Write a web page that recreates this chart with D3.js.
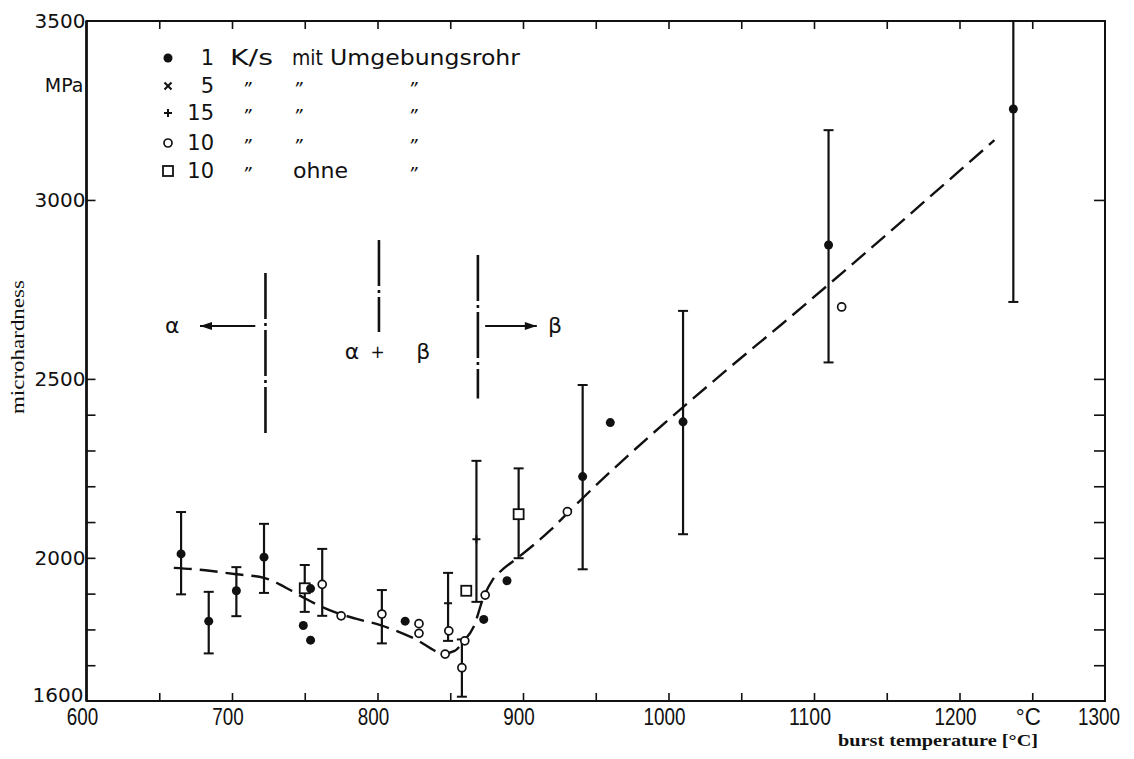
<!DOCTYPE html>
<html><head><meta charset="utf-8">
<script src="https://cdn.jsdelivr.net/npm/d3@7"></script>
<style>body{margin:0;background:#fff} svg{display:block}</style>
</head><body>
<svg id="c" width="1134" height="759"></svg>
<script>
// ---- axis ticks / labels ----
const xTicksMajor = [600,700,800,900,1000,1100,1200,1300];
const xTickLabels = ["600","700","800","900","1000","1100","1200","1300"];
const xTicksMinor = [650,750,850,950,1050,1150,1250];
const xUnitAt = 1250, xUnitLabel = "°C";
const yTicksLabeled = [1600,2000,2500,3000,3500];
const yTickLabels = ["1600","2000","2500","3000","3500"];
const yTicksInner = [1700,1800,1900,2000,2100,2200,2300,2400,2500,3000];
const yUnitAt = 3320, yUnitLabel = "MPa";

// ---- data series: [burst temperature °C, microhardness MPa, lower, upper] ----
const s1K = [
  [665,2011,1898,2128],[684,1823,1733,1905],[703,1908,1837,1974],[722,2002,1902,2095],
  [749,1811],[754,1770],[754,1914],[819,1823],[873,1828],[889,1936],
  [941,2227,1968,2483],[960,2378],[1010,2380,2066,2690],[1110,2874,2546,3195],[1237,3254,2715,3500]
];
const s5K = [];
const s15K = [[848.5,1873,1768,1958],[868,2052,1877,2271]];
const s10K = [
  [762,1926,1838,2025],[775,1838],[803,1843,1761,1910],[828.5,1816],[828.5,1789],
  [849,1796],[846.5,1731],[858,1693,1612,1772],[860,1768],[874,1896],[930.5,2129],[1119,2701]
];
const s10Kohne = [[750,1915,1849,1980],[861,1908],[897,2122,1999,2250]];

// dashed trend curve
const curveT = [660,680,703,722,740,750,767,785,802,825,846,853,859,866,873,879,887,896,919,935,1040,1077,1224];
const curveH = [1972,1966,1954,1944,1910,1887,1854,1830,1812,1775,1733,1740,1766,1807,1891,1938,1971,1999,2078,2143,2525,2650,3167];

// phase boundaries (dash-dot verticals)
const phaseT = [723,801,869];
const phaseLow = [2343,2631,2445];
const phaseHigh = [2796,2888,2846];

// legend
const legSymbols = ["dot","x","plus","circle","square"];
const legRate = ["1","5","15","10","10"];
const legUnit = ["K/s","\u201D","\u201D","\u201D","\u201D"];
const legWith = ["mit","\u201D","\u201D","\u201D","ohne"];
const legTube = ["Umgebungsrohr","\u201D","\u201D","\u201D","\u201D"];

// ---- drawing ----
const svg = d3.select("#c");
const x = d3.scaleLinear().domain([600,1300]).range([86.5,1105]);
const y = d3.scaleLinear().domain([1600,3500]).range([701,21]);
const ink = "#111";
const sans = "'DejaVu Sans', sans-serif";
const narrow = "'Liberation Sans', sans-serif";
const serif = "'Liberation Serif','DejaVu Serif', serif";

// frame
svg.append("rect").attr("x",x(600)).attr("y",y(3500)).attr("width",x(1300)-x(600)).attr("height",y(1600)-y(3500))
  .attr("fill","none").attr("stroke",ink).attr("stroke-width",2);
svg.append("line").attr("x1",x(600)).attr("x2",x(600)).attr("y1",y(3500)).attr("y2",y(1600)).attr("stroke",ink).attr("stroke-width",2.6);

// x axis bottom & top: inward ticks
const xAll = xTicksMajor.concat(xTicksMinor).filter(t=>t>600 && t<1300);
const bottomAxis = d3.axisBottom(x).tickValues(xAll).tickSize(-8).tickFormat("");
svg.append("g").attr("transform",`translate(0,${y(1600)})`).call(bottomAxis)
  .call(g=>{g.select(".domain").remove(); g.selectAll("line").attr("stroke",ink).attr("stroke-width",1.6);});
const topAxis = d3.axisTop(x).tickValues(xAll).tickSize(-8).tickFormat("");
svg.append("g").attr("transform",`translate(0,${y(3500)})`).call(topAxis)
  .call(g=>{g.select(".domain").remove(); g.selectAll("line").attr("stroke",ink).attr("stroke-width",1.6);});
// x labels (narrow lettering)
svg.append("g").selectAll("text").data(xTicksMajor).join("text")
  .attr("x",(d,i)=>x(d)-(d===1300?6:4)).attr("y",725).attr("text-anchor","middle")
  .attr("textLength",(d,i)=>xTickLabels[i].length*10.5).attr("lengthAdjust","spacingAndGlyphs")
  .attr("font-family",narrow).attr("font-size",24).attr("fill",ink)
  .text((d,i)=>xTickLabels[i]);
svg.append("text").attr("x",x(xUnitAt)-4).attr("y",725).attr("text-anchor","middle").attr("textLength",25).attr("lengthAdjust","spacingAndGlyphs")
  .attr("font-family",narrow).attr("font-size",24).attr("fill",ink).text(xUnitLabel);
svg.append("text").attr("x",838).attr("y",746).attr("textLength",200).attr("lengthAdjust","spacingAndGlyphs")
  .attr("font-family",serif).attr("font-size",17).attr("font-weight","bold").attr("fill",ink)
  .text("burst temperature [°C]");

// y axis left & right: inward ticks
const leftAxis = d3.axisLeft(y).tickValues(yTicksInner).tickSize(-9).tickFormat("");
svg.append("g").attr("transform",`translate(${x(600)},0)`).call(leftAxis)
  .call(g=>{g.select(".domain").remove(); g.selectAll("line").attr("stroke",ink).attr("stroke-width",1.6);});
const rightAxis = d3.axisRight(y).tickValues(yTicksInner).tickSize(-11).tickFormat("");
svg.append("g").attr("transform",`translate(${x(1300)},0)`).call(rightAxis)
  .call(g=>{g.select(".domain").remove(); g.selectAll("line").attr("stroke",ink).attr("stroke-width",1.6);});
svg.append("g").selectAll("text").data(yTicksLabeled).join("text")
  .attr("x",d=>x(600)-(d===1600?3:1)).attr("y",d=>y(d)+(d===1600?1:7)).attr("text-anchor","end")
  .attr("font-family",sans).attr("font-size",20).attr("fill",ink)
  .text((d,i)=>yTickLabels[i]);
svg.append("text").attr("x",x(600)-3).attr("y",y(yUnitAt)+7).attr("text-anchor","end")
  .attr("font-family",sans).attr("font-size",19).attr("fill",ink).text(yUnitLabel);
svg.append("text").attr("transform",`translate(24,${y(2589)}) rotate(-90)`).attr("x",-67)
  .attr("textLength",134).attr("lengthAdjust","spacingAndGlyphs")
  .attr("font-family",serif).attr("font-size",19).attr("fill",ink)
  .text("microhardness");

// phase boundaries
svg.append("g").selectAll("line").data(phaseT).join("line")
  .attr("x1",d=>x(d)).attr("x2",d=>x(d))
  .attr("y1",(d,i)=>y(phaseHigh[i])).attr("y2",(d,i)=>y(phaseLow[i]))
  .attr("stroke",ink).attr("stroke-width",2.6).attr("stroke-dasharray","46,4,3,4");

// phase labels and arrows
const phaseY = 2648;
function arrow(t0,t1,v){
  svg.append("line").attr("x1",x(t0)).attr("x2",x(t1)).attr("y1",y(v)).attr("y2",y(v)).attr("stroke",ink).attr("stroke-width",2);
  const dir = Math.sign(x(t1)-x(t0));
  const tx = x(t1), ty = y(v);
  svg.append("path").attr("d",`M${tx},${ty} L${tx-dir*12},${ty-4} L${tx-dir*12},${ty+4} Z`).attr("fill",ink);
}
arrow(716,678,phaseY);
arrow(874,909.5,phaseY);
const greekFont = sans;
svg.append("text").attr("x",x(659)).attr("y",y(phaseY)+7).attr("text-anchor","middle").attr("font-family",greekFont).attr("font-size",22).attr("fill",ink).text("α");
svg.append("text").attr("x",x(922)).attr("y",y(phaseY)+7).attr("text-anchor","middle").attr("font-family",greekFont).attr("font-size",22).attr("fill",ink).text("β");
svg.append("text").attr("x",x(782.5)).attr("y",y(2575)+7).attr("text-anchor","middle").attr("font-family",greekFont).attr("font-size",22).attr("fill",ink).text("α");
svg.append("text").attr("x",x(800)).attr("y",y(2575)+6).attr("text-anchor","middle").attr("font-family",greekFont).attr("font-size",17).attr("fill",ink).text("+");
svg.append("text").attr("x",x(831.5)).attr("y",y(2575)+7).attr("text-anchor","middle").attr("font-family",greekFont).attr("font-size",22).attr("fill",ink).text("β");

// trend curve
const line = d3.line().x(d=>x(d[0])).y(d=>y(d[1])).curve(d3.curveMonotoneX);
svg.append("path").datum(curveT.map((t,i)=>[t,curveH[i]])).attr("d",line)
  .attr("fill","none").attr("stroke",ink).attr("stroke-width",2.4).attr("stroke-dasharray","18,8");

// error bars
const allSeries = [s1K,s5K,s15K,s10K,s10Kohne];
const gErr = svg.append("g");
allSeries.forEach(s=>s.filter(d=>d.length===4).forEach(d=>{
  gErr.append("line").attr("x1",x(d[0])).attr("x2",x(d[0])).attr("y1",y(d[2])).attr("y2",y(d[3])).attr("stroke",ink).attr("stroke-width",2.2);
  [d[2],d[3]].forEach(v=>{ if(v<3500) gErr.append("line").attr("x1",x(d[0])-5).attr("x2",x(d[0])+5).attr("y1",y(v)).attr("y2",y(v)).attr("stroke",ink).attr("stroke-width",2);});
}));

// markers
function drawMarker(g,type,cx,cy){
  if(type==="dot") g.append("circle").attr("cx",cx).attr("cy",cy).attr("r",4.5).attr("fill",ink);
  else if(type==="circle") g.append("circle").attr("cx",cx).attr("cy",cy).attr("r",4).attr("fill","#fff").attr("stroke",ink).attr("stroke-width",1.7);
  else if(type==="square") g.append("rect").attr("x",cx-5).attr("y",cy-5).attr("width",10).attr("height",10).attr("fill","#fff").attr("stroke",ink).attr("stroke-width",1.8);
  else if(type==="plus") g.append("path").attr("d",`M${cx-4},${cy}H${cx+4}M${cx},${cy-4}V${cy+4}`).attr("stroke",ink).attr("stroke-width",2);
  else if(type==="x") g.append("path").attr("d",`M${cx-3.5},${cy-3.5}L${cx+3.5},${cy+3.5}M${cx-3.5},${cy+3.5}L${cx+3.5},${cy-3.5}`).attr("stroke",ink).attr("stroke-width",2);
}
const gM = svg.append("g");
s10Kohne.forEach(d=>drawMarker(gM,"square",x(d[0]),y(d[1])));
s10K.forEach(d=>drawMarker(gM,"circle",x(d[0]),y(d[1])));
s15K.forEach(d=>drawMarker(gM,"plus",x(d[0]),y(d[1])));
s5K.forEach(d=>drawMarker(gM,"x",x(d[0]),y(d[1])));
s1K.forEach(d=>drawMarker(gM,"dot",x(d[0]),y(d[1])));

// legend
const legBase = [65,93,120,150,178];
const gL = svg.append("g").attr("font-family",sans).attr("font-size",21).attr("fill",ink);
legSymbols.forEach((s,i)=>{
  drawMarker(gL,s,168,legBase[i]-7);
  gL.append("text").attr("x",214).attr("y",legBase[i]).attr("text-anchor","end").text(legRate[i]);
  if(i===0){
    gL.append("text").attr("x",230).attr("y",legBase[i]).attr("textLength",43).attr("lengthAdjust","spacingAndGlyphs").text(legUnit[i]);
    gL.append("text").attr("x",292).attr("y",legBase[i]).attr("textLength",31).attr("lengthAdjust","spacingAndGlyphs").text(legWith[i]);
    gL.append("text").attr("x",330).attr("y",legBase[i]).attr("textLength",190).attr("lengthAdjust","spacingAndGlyphs").text(legTube[i]);
  } else {
    gL.append("text").attr("x",247).attr("y",legBase[i]+2).attr("text-anchor","middle").attr("font-style","italic").attr("font-size",18).text(legUnit[i]);
    if(legWith[i].length>1) gL.append("text").attr("x",293).attr("y",legBase[i]).attr("textLength",55).attr("lengthAdjust","spacingAndGlyphs").text(legWith[i]);
    else gL.append("text").attr("x",298).attr("y",legBase[i]+2).attr("text-anchor","middle").attr("font-style","italic").attr("font-size",18).text(legWith[i]);
    gL.append("text").attr("x",413).attr("y",legBase[i]+2).attr("text-anchor","middle").attr("font-style","italic").attr("font-size",18).text(legTube[i]);
  }
});
</script>
</body></html>
